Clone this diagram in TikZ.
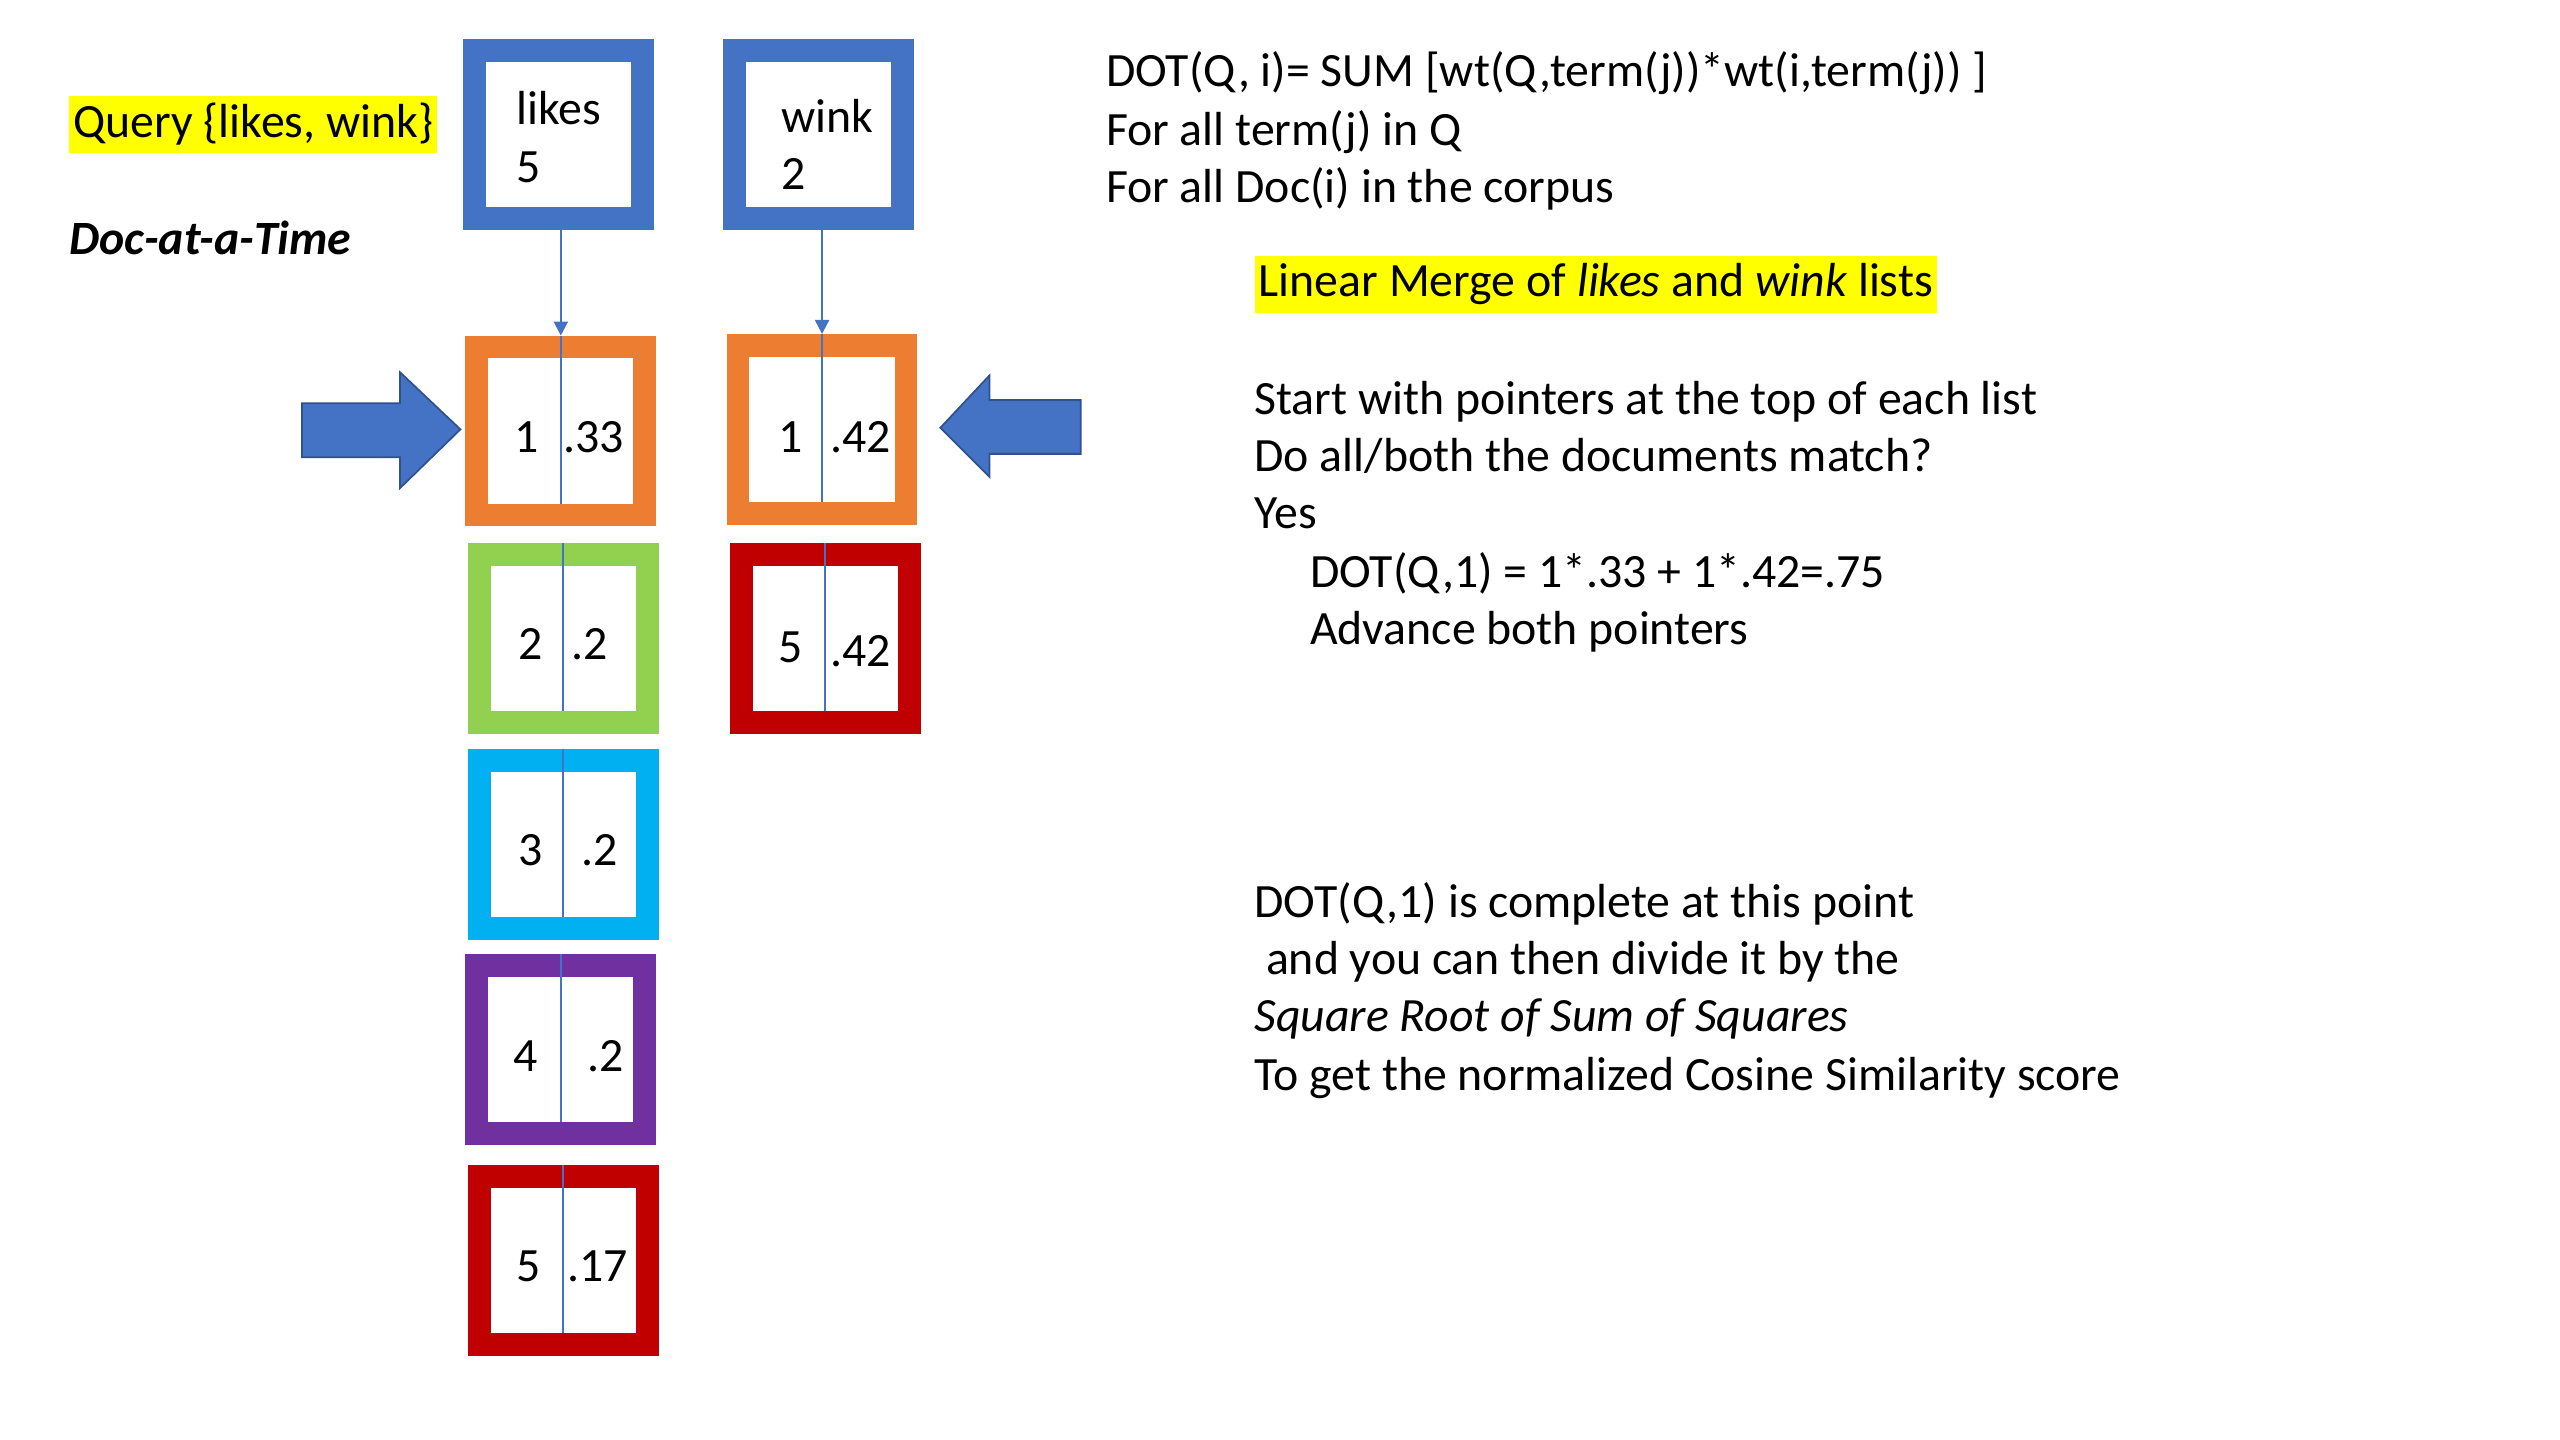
\documentclass[tikz,border=0pt]{standalone}
\usepackage{fontspec}
\setmainfont{Carlito}
\usetikzlibrary{positioning, calc, arrows.meta}

\definecolor{qblue}{HTML}{4472C4}
\definecolor{qedge}{HTML}{2F528F}
\definecolor{porange}{HTML}{ED7D31}
\definecolor{pgreen}{HTML}{92D050}
\definecolor{pcyan}{HTML}{00B0F0}
\definecolor{ppurple}{HTML}{7030A0}
\definecolor{pred}{HTML}{C00000}
\definecolor{hiyellow}{HTML}{FFFF00}

\tikzset{
  posting/.style={draw=#1, line width=6.5pt, fill=white, minimum width=16.8mm, minimum height=16.8mm, inner sep=0pt},
  txt/.style={inner sep=0pt, anchor=base west},
  num/.style={inner sep=0pt, anchor=base},
  hilite/.style={fill=hiyellow, inner xsep=1.2pt, inner ysep=0pt, minimum height=5.7mm, anchor=west},
  divider/.style={qblue, line width=0.6pt},
  link/.style={qblue, line width=0.6pt, -{Triangle[length=4pt, width=4pt]}},
  bigarrow/.style={fill=qblue, draw=qedge, line width=0.5pt}
}

\begin{document}
\begin{tikzpicture}[x=0.16327mm, y=-0.16327mm, font=\fontsize{13.6}{16.3}\selectfont]
    \useasboundingbox (0,0) rectangle (1568,882);

    % Query
    \node[hilite] (query) at (42,76) {Query \{likes, wink\}};
    \node[txt] (mode) at (42,156) {\bfseries\itshape Doc-at-a-Time};

    % term boxes
    \node[posting=qblue] (likes) at (342,82.5) {};
    \node[txt] (likesname) at (316,76) {likes};
    \node[txt] (likesdf) at (316,112) {5};
    \node[posting=qblue] (wink) at (501.5,82.5) {};
    \node[txt] (winkname) at (478,81) {wink};
    \node[txt] (winkdf) at (478,116) {2};

    % likes postings
    \node[posting=porange] (l1) at (343.5,264) {};
    \node[posting=pgreen] (l2) at (345,391) {};
    \node[posting=pcyan] (l3) at (345,517) {};
    \node[posting=ppurple] (l4) at (343.5,643) {};
    \node[posting=pred] (l5) at (345,772) {};
    \node[num] (l1d) at ($(l1)+(-21,13)$) {1};
    \node[num] (l1w) at ($(l1)+(20,13)$) {.33};
    \node[num] (l2d) at ($(l2)+(-20,13)$) {2};
    \node[num] (l2w) at ($(l2)+(16,13)$) {.2};
    \node[num] (l3d) at ($(l3)+(-20,13)$) {3};
    \node[num] (l3w) at ($(l3)+(22,13)$) {.2};
    \node[num] (l4d) at ($(l4)+(-21.5,13)$) {4};
    \node[num] (l4w) at ($(l4)+(27.5,13)$) {.2};
    \node[num] (l5d) at ($(l5)+(-21,13)$) {5};
    \node[num] (l5w) at ($(l5)+(21,13)$) {.17};

    % wink postings
    \node[posting=porange] (w1) at (503.5,263) {};
    \node[posting=pred] (w2) at (505.5,391) {};
    \node[num] (w1d) at ($(w1)+(-19.5,14)$) {1};
    \node[num] (w1w) at ($(w1)+(23.5,14)$) {.42};
    \node[num] (w2d) at ($(w2)+(-21.5,15)$) {5};
    \node[num] (w2w) at ($(w2)+(21.5,17)$) {.42};

    % dividers
    \foreach \p in {l1,l2,l3,l4,l5,w1,w2}
        \draw[divider] (\p.north) -- ([yshift=6.5pt]\p.south);

    % list heads
    \draw[link] (likes.south -| l1) -- (l1.north);
    \draw[link] (wink.south -| w1) -- (w1.north);

    % current pointers
    \draw[bigarrow] (185,247) -- (245,247) -- (245,228) -- (282,263) -- (245,299) -- (245,280) -- (185,280) -- cycle;
    \draw[bigarrow] (662,245) -- (606,245) -- (606,230) -- (576,262) -- (606,292) -- (606,278) -- (662,278) -- cycle;

    % formula
    \node[txt] (formula) at (677,53) {DOT(Q, i)= SUM [wt(Q,term(j))*wt(i,term(j)) ]};
    \node[txt] (forterm) at (677,89) {For all term(j) in Q};
    \node[txt] (fordoc) at (677,124) {For all Doc(i) in the corpus};

    % merge steps
    \node[hilite] (merge) at (768,174) {Linear Merge of \textit{likes} and \textit{wink} lists};
    \node[txt] (start) at (768,254) {Start with pointers at the top of each list};
    \node[txt] (match) at (768,289) {Do all/both the documents match?};
    \node[txt] (yes) at (768,324) {Yes};
    \node[txt] (dotq) at (802,360) {DOT(Q,1) = 1*.33 + 1*.42=.75};
    \node[txt] (advance) at (802,395) {Advance both pointers};

    % normalisation
    \node[txt] (done) at (768,562) {DOT(Q,1) is complete at this point};
    \node[txt] (divide) at (775,597) {and you can then divide it by the};
    \node[txt] (sqroot) at (768,632) {\itshape Square Root of Sum of Squares};
    \node[txt] (cosine) at (768,668) {To get the normalized Cosine Similarity score};
\end{tikzpicture}
\end{document}
